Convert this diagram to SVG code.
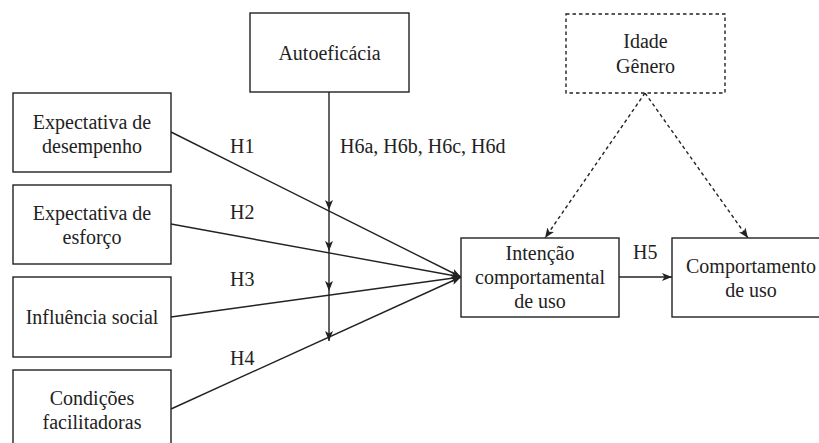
<svg xmlns="http://www.w3.org/2000/svg" width="819" height="443" viewBox="0 0 819 443" font-family="Liberation Serif, DejaVu Serif, serif" font-size="20">
<style>
.box{fill:#fff;stroke:#222;stroke-width:1.4}
.dash{fill:#fff;stroke:#222;stroke-width:1.4;stroke-dasharray:3.5 3}
.t{text-anchor:middle}
.c{stroke:#222;stroke-width:1.4;fill:none;marker-end:url(#ah)}
.cd{stroke:#222;stroke-width:1.4;fill:none;stroke-dasharray:3.5 3;marker-end:url(#ah)}
</style>
<defs>
<marker id="ah" viewBox="0 0 10 8" refX="10" refY="4" markerWidth="10" markerHeight="8" markerUnits="userSpaceOnUse" orient="auto">
<path d="M0,0 L10,4 L0,8 L2.5,4 Z" fill="#222"/>
</marker>
</defs>
<rect width="819" height="443" fill="#fff"/>
<g id="connectors">
<line class="c" x1="329" y1="92" x2="329" y2="210"/>
<line class="c" x1="329" y1="210" x2="329" y2="251"/>
<line class="c" x1="329" y1="251" x2="329" y2="291"/>
<line class="c" x1="329" y1="291" x2="329" y2="341"/>
<line class="c" x1="171" y1="132" x2="461" y2="277"/>
<line class="c" x1="171" y1="224" x2="461" y2="277"/>
<line class="c" x1="171" y1="317" x2="461" y2="277"/>
<line class="c" x1="171" y1="409" x2="461" y2="277"/>
<line class="c" x1="619" y1="277" x2="672" y2="277"/>
<line class="cd" x1="645" y1="93" x2="545" y2="238"/>
<line class="cd" x1="645" y1="93" x2="748" y2="238"/>
<g fill="#222" font-family="Liberation Serif, serif">
<text x="230" y="153">H1</text>
<text x="230" y="219">H2</text>
<text x="230" y="286">H3</text>
<text x="230" y="365">H4</text>
<text x="633" y="259">H5</text>
<text x="340" y="153">H6a, H6b, H6c, H6d</text>
</g>
</g>
<g id="autoeficacia" fill="#222">
<rect class="box" x="250" y="13" width="159" height="79"/>
<text class="t" x="329.5" y="60">Autoeficácia</text>
</g>
<g id="idade-genero" fill="#222">
<rect class="dash" x="566" y="14" width="159" height="79"/>
<text class="t" x="645.5" y="48">Idade</text>
<text class="t" x="645.5" y="73">Gênero</text>
</g>
<g id="expectativa-desempenho" fill="#222">
<rect class="box" x="13" y="93" width="158" height="79"/>
<text class="t" x="92" y="129">Expectativa de</text>
<text class="t" x="92" y="153">desempenho</text>
</g>
<g id="expectativa-esforco" fill="#222">
<rect class="box" x="13" y="185" width="158" height="79"/>
<text class="t" x="92" y="220">Expectativa de</text>
<text class="t" x="92" y="244">esforço</text>
</g>
<g id="influencia-social" fill="#222">
<rect class="box" x="13" y="277" width="158" height="80"/>
<text class="t" x="92" y="324">Influência social</text>
</g>
<g id="condicoes-facilitadoras" fill="#222">
<rect class="box" x="13" y="370" width="158" height="79"/>
<text class="t" x="92" y="405">Condições</text>
<text class="t" x="92" y="429">facilitadoras</text>
</g>
<g id="intencao" fill="#222">
<rect class="box" x="461" y="238" width="158" height="79"/>
<text class="t" x="540" y="260">Intenção</text>
<text class="t" x="540" y="284">comportamental</text>
<text class="t" x="540" y="308">de uso</text>
</g>
<g id="comportamento" fill="#222">
<rect class="box" x="672" y="238" width="158" height="79"/>
<text class="t" x="751" y="273">Comportamento</text>
<text class="t" x="751" y="297">de uso</text>
</g>
</svg>
